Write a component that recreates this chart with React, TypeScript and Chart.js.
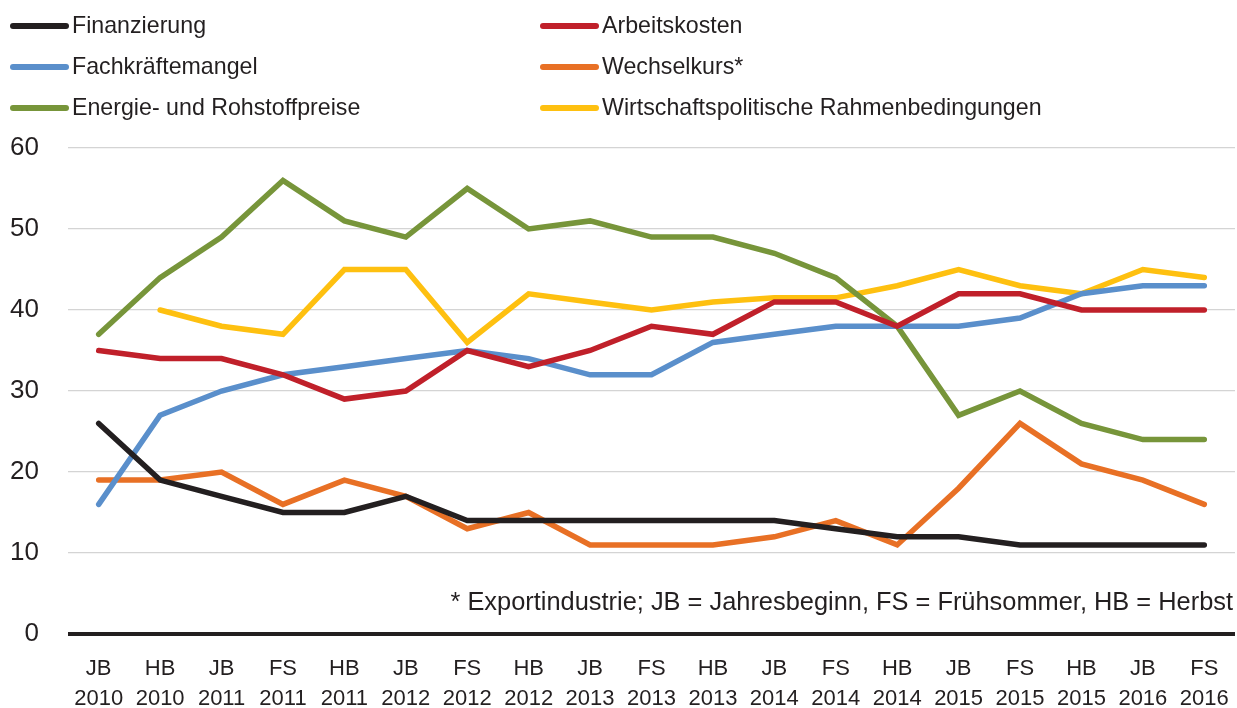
import React, { useEffect, useRef } from "react";
import { Chart, registerables } from "chart.js";

Chart.register(...registerables);

const periods = ["JB", "HB", "JB", "FS", "HB", "JB", "FS", "HB", "JB", "FS", "HB", "JB", "FS", "HB", "JB", "FS", "HB", "JB", "FS"];
const years = ["2010", "2010", "2011", "2011", "2011", "2012", "2012", "2012", "2013", "2013", "2013", "2014", "2014", "2014", "2015", "2015", "2015", "2016", "2016"];

const finanzierung = [26, 19, 17, 15, 15, 17, 14, 14, 14, 14, 14, 14, 13, 12, 12, 11, 11, 11, 11];
const arbeitskosten = [35, 34, 34, 32, 29, 30, 35, 33, 35, 38, 37, 41, 41, 38, 42, 42, 40, 40, 40];
const fachkraefte = [16, 27, 30, 32, 33, 34, 35, 34, 32, 32, 36, 37, 38, 38, 38, 39, 42, 43, 43];
const wechselkurs = [19, 19, 20, 16, 19, 17, 13, 15, 11, 11, 11, 12, 14, 11, 18, 26, 21, 19, 16];
const energie = [37, 44, 49, 56, 51, 49, 55, 50, 51, 49, 49, 47, 44, 38, 27, 30, 26, 24, 24];
const wirtschaft = [null, 40, 38, 37, 45, 45, 36, 42, 41, 40, 41, 41.5, 41.5, 43, 45, 43, 42, 45, 44];

const yTicks = [0, 10, 20, 30, 40, 50, 60];
const footnote = "* Exportindustrie; JB = Jahresbeginn, FS = Frühsommer, HB = Herbst";

const series = [
  { label: "Finanzierung", data: finanzierung, color: "#231f20" },
  { label: "Arbeitskosten", data: arbeitskosten, color: "#c0202a" },
  { label: "Fachkräftemangel", data: fachkraefte, color: "#5a8fcb" },
  { label: "Wechselkurs*", data: wechselkurs, color: "#e87025" },
  { label: "Energie- und Rohstoffpreise", data: energie, color: "#77953a" },
  { label: "Wirtschaftspolitische Rahmenbedingungen", data: wirtschaft, color: "#fec010" },
];

const FONT = "'Liberation Sans', Arial, sans-serif";
const TEXT = "#231f20";

const overlayPlugin = {
  id: "overlay",
  afterDraw(chart: any) {
    const ctx = chart.ctx;
    ctx.save();
    const colX = [10, 540];
    const rowY = [26, 67, 108];
    series.forEach((s, i) => {
      const col = i % 2;
      const row = Math.floor(i / 2);
      const x = colX[col];
      const y = rowY[row];
      ctx.strokeStyle = s.color;
      ctx.lineWidth = 6;
      ctx.lineCap = "round";
      ctx.beginPath();
      ctx.moveTo(x + 3, y);
      ctx.lineTo(x + 56, y);
      ctx.stroke();
      ctx.fillStyle = TEXT;
      ctx.font = `23.2px ${FONT}`;
      ctx.textAlign = "left";
      ctx.textBaseline = "middle";
      ctx.fillText(s.label, x + 62, y + 1);
    });
    ctx.font = `25.4px ${FONT}`;
    ctx.textAlign = "right";
    ctx.textBaseline = "alphabetic";
    ctx.fillStyle = TEXT;
    ctx.fillText(footnote, 1233, 610);
    ctx.restore();
  },
};

export default function App() {
  const ref = useRef<HTMLCanvasElement>(null);
  useEffect(() => {
    document.body.style.margin = "0";
    const labels = periods.map((p, i) => [p, years[i]]);
    const chart = new Chart(ref.current!, {
      type: "line",
      data: {
        labels,
        datasets: series.map((s) => ({
          label: s.label,
          data: s.data as any,
          borderColor: s.color,
          backgroundColor: s.color,
          borderWidth: 5.5,
          pointRadius: 0,
          borderCapStyle: "round",
          borderJoinStyle: "miter",
          tension: 0,
          spanGaps: false,
        })),
      },
      options: {
        animation: false,
        responsive: false,
        maintainAspectRatio: false,
        layout: { padding: { top: 148, right: 2, left: 0, bottom: 0 } },
        plugins: { legend: { display: false }, tooltip: { enabled: false } },
        scales: {
          x: {
            offset: true,
            grid: { display: false, drawTicks: false },
            border: { display: false },
            ticks: {
              color: TEXT,
              font: { family: FONT, size: 22, lineHeight: 1.36 },
              padding: 20,
              maxRotation: 0,
              autoSkip: false,
            },
            afterFit(axis: any) {
              axis.height = 74;
              axis.paddingLeft = 0;
              axis.paddingRight = 0;
            },
          },
          y: {
            min: 0,
            max: 60,
            afterBuildTicks(axis: any) {
              axis.ticks = yTicks.map((v) => ({ value: v }));
            },
            grid: {
              drawTicks: false,
              color: (c: any) => (c.tick && c.tick.value === 0 ? "#231f20" : "#d4d4d4"),
              lineWidth: (c: any) => (c.tick && c.tick.value === 0 ? 4 : 1.2),
            },
            border: { display: false },
            ticks: {
              color: TEXT,
              font: { family: FONT, size: 26 },
              padding: 29,
            },
            afterFit(axis: any) {
              axis.width = 68;
            },
          },
        },
      },
      plugins: [overlayPlugin],
    });
    return () => chart.destroy();
  }, []);
  return (
    <div style={{ position: "absolute", left: 0, top: 0, width: 1237, height: 708 }}>
      <canvas ref={ref} width={1237} height={708} style={{ width: 1237, height: 708 }} />
    </div>
  );
}
